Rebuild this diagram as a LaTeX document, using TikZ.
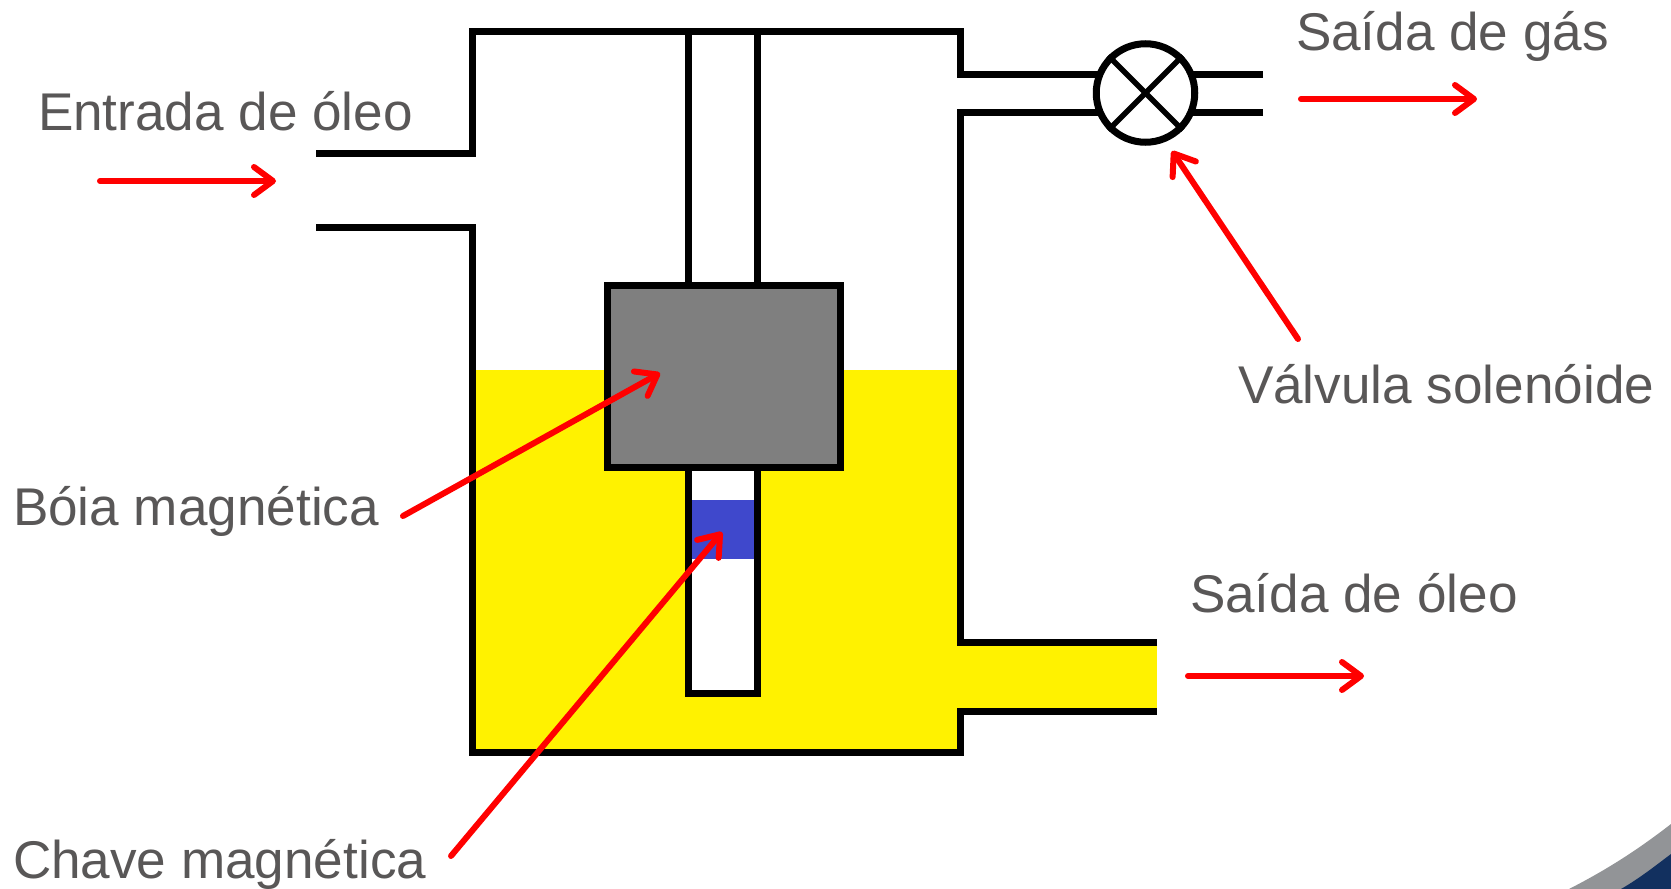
\documentclass[tikz,border=0pt]{standalone}
\usepackage{fontspec}
\setmainfont{Liberation Sans}
\definecolor{oil}{HTML}{FFF200}
\definecolor{txt}{HTML}{595757}
\definecolor{switchblue}{HTML}{3F48CC}
\definecolor{floatgray}{HTML}{7F7F7F}
\definecolor{swgray}{HTML}{929497}
\definecolor{swnavy}{HTML}{12305F}
\usetikzlibrary{arrows.meta}
\tikzset{
  pipe/.style={draw=black,line width=7pt,line cap=butt,line join=miter},
  redarrow/.style={draw=red,line width=6pt,line cap=round,-{Straight Barb[length=19pt,width=28pt,line width=6pt,round]}},
  label/.style={text=txt,font=\fontsize{53.1}{60}\selectfont,anchor=base west,inner sep=0pt,outer sep=0pt},
  valvebody/.style={circle,draw=black,line width=7pt,minimum size=98.5pt,inner sep=0pt,fill=white}
}
\begin{document}
\begin{tikzpicture}[x=1pt,y=-1pt]
\useasboundingbox (0,0) rectangle (1671,889);
\fill[white] (0,0) rectangle (1671,889);
% corner swoosh
\fill[swgray] (1569,889) .. controls (1610,868) and (1640,848) .. (1671,824) -- (1671,889) -- cycle;
\fill[swnavy] (1621,889) .. controls (1640,878) and (1655,866) .. (1671,854) -- (1671,889) -- cycle;
% oil
\fill[oil] (472,370) rectangle (960,752);
\fill[oil] (960,642) rectangle (1157,711);
% tube
\fill[white] (688,467) rectangle (757,693);
\fill[switchblue] (691,500) rectangle (754,559);
% junction points
\coordinate (vc) at (1145.5,93);
\coordinate (gasA) at (1263,74);
\coordinate (gasB) at (1263,112.5);
\coordinate (gasC) at (960,74);
\coordinate (gasD) at (960,112.5);
% tank outline and gas pipes
\draw[pipe] (316,153.5) -- (472,153.5) -- (472,31) -- (960,31) -- (gasC) -- (gasC -| vc);
\draw[pipe] (316,227) -- (472,227) -- (472,752) -- (960,752) -- (960,711) -- (1157,711);
\draw[pipe] (1157,642) -- (960,642) -- (gasD) -- (gasD -| vc);
\draw[pipe] (gasA) -- (gasA -| vc);
\draw[pipe] (gasB) -- (gasB -| vc);
% valve
\node[valvebody] (valve) at (vc) {};
\draw[black,line width=5.5pt] (valve.45) -- (valve.225);
\draw[black,line width=5.5pt] (valve.135) -- (valve.315);
% rod
\draw[pipe] (688.5,31) -- (688.5,285);
\draw[pipe] (757,31) -- (757,285);
% tube below float
\draw[pipe] (688.5,467) -- (688.5,693) -- (757,693) -- (757,467);
% float
\node[draw=black,line width=7pt,fill=floatgray,minimum width=233pt,minimum height=182pt,inner sep=0pt,outer sep=0pt] (float) at (724,376) {};
% labels
\node[label] (entrada) at (38,130) {Entrada de óleo};
\node[label] (saidagas) at (1296,50) {Saída de gás};
\node[label] (valvula) at (1238,403) {Válvula solenóide};
\node[label] (boia) at (13,525) {Bóia magnética};
\node[label] (saidaoleo) at (1190,612) {Saída de óleo};
\node[label] (chave) at (13,878) {Chave magnética};
% arrows
\coordinate (a1) at (100,181); \coordinate (a2) at (276,181);
\coordinate (b1) at (1301,99); \coordinate (b2) at (1477,99);
\coordinate (c1) at (1188,676); \coordinate (c2) at (1364,676);
\coordinate (d1) at (1298,339); \coordinate (d2) at (1172,151);
\coordinate (e1) at (403,516); \coordinate (e2) at (660,373);
\coordinate (f1) at (451,856); \coordinate (f2) at (722,532);
\draw[redarrow] (a1) -- (a2);
\draw[redarrow] (b1) -- (b2);
\draw[redarrow] (c1) -- (c2);
\draw[redarrow] (d1) -- (d2);
\draw[redarrow] (e1) -- (e2);
\draw[redarrow] (f1) -- (f2);
\end{tikzpicture}
\end{document}
